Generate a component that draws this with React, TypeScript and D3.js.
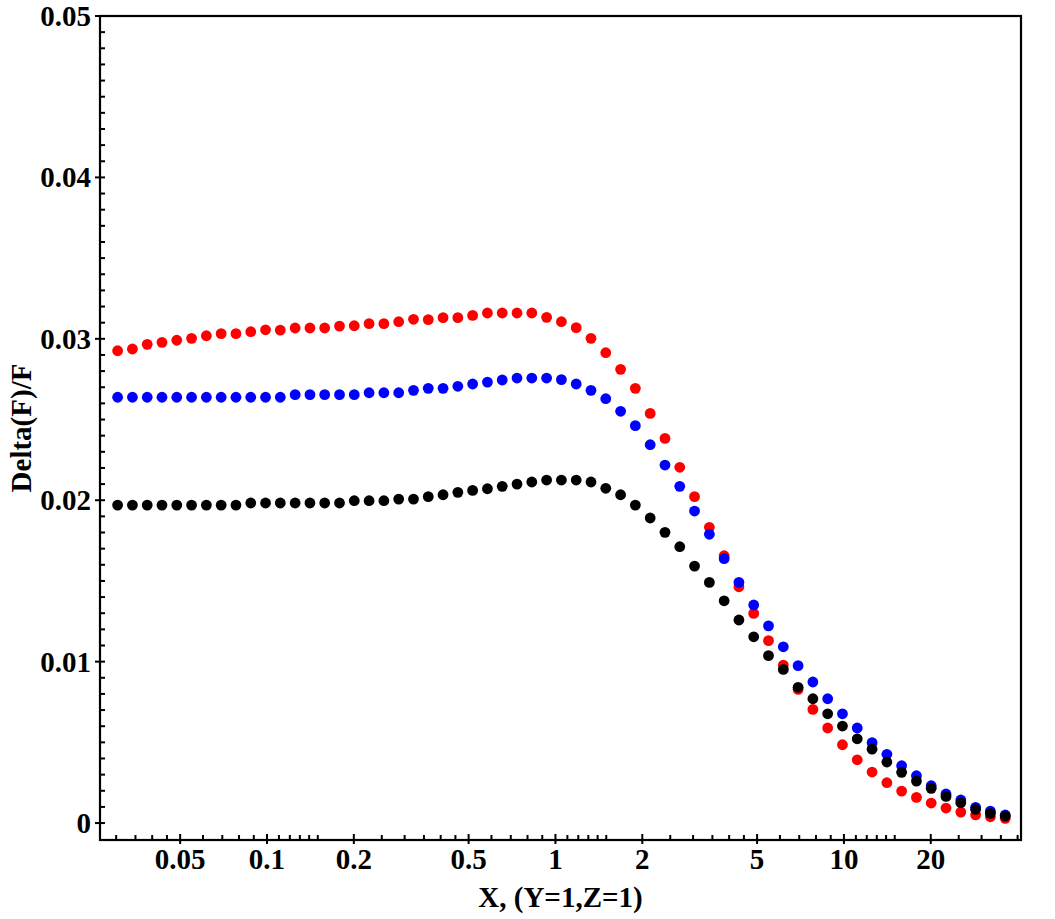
import { useRef, useEffect } from "react";
import * as d3 from "d3";

// sample positions along X (log-spaced grid)
const X_VALUES = [
  0.03035, 0.03416, 0.03844, 0.04325, 0.04867, 0.05477, 0.06164, 0.06936, 0.07805, 0.08784,
  0.09886, 0.1112, 0.1252, 0.1409, 0.1585, 0.1784, 0.2007, 0.2259, 0.2542, 0.2861,
  0.322, 0.3623, 0.4077, 0.4588, 0.5163, 0.581, 0.6538, 0.7357, 0.8279, 0.9318,
  1.0486, 1.18, 1.328, 1.494, 1.682, 1.892, 2.13, 2.397, 2.697, 3.035,
  3.416, 3.844, 4.325, 4.867, 5.477, 6.164, 6.936, 7.805, 8.784, 9.883,
  11.12, 12.52, 14.09, 15.85, 17.84, 20.07, 22.59, 25.42, 28.61, 32.19,
  36.24,
];

const RED_VALUES = [
  0.02926, 0.02937, 0.02966, 0.02978, 0.02991, 0.03003, 0.03019, 0.03032, 0.03032, 0.03044,
  0.03056, 0.03054, 0.03067, 0.03067, 0.03067, 0.03079, 0.03081, 0.03094, 0.03094, 0.03106,
  0.03121, 0.03119, 0.03131, 0.03131, 0.03145, 0.0316, 0.0316, 0.0316, 0.0316, 0.03133,
  0.03106, 0.03069, 0.03003, 0.02914, 0.02811, 0.02693, 0.02538, 0.02383, 0.02204, 0.02022,
  0.01832, 0.01656, 0.01464, 0.01299, 0.0113, 0.00979, 0.00828, 0.00704, 0.00589, 0.00485,
  0.00392, 0.00316, 0.0025, 0.00198, 0.00159, 0.00124, 0.00093, 0.00068, 0.00051, 0.00039,
  0.00029,
];

const BLUE_VALUES = [
  0.02638, 0.02638, 0.02638, 0.02638, 0.02638, 0.02638, 0.02638, 0.02638, 0.02638, 0.02638,
  0.02638, 0.02638, 0.02654, 0.02654, 0.02654, 0.02654, 0.02654, 0.02666, 0.02666, 0.02666,
  0.02681, 0.02693, 0.02693, 0.02706, 0.0272, 0.02732, 0.02745, 0.02757, 0.02757, 0.02757,
  0.02747, 0.0272, 0.02681, 0.02629, 0.02551, 0.02462, 0.02344, 0.02218, 0.02086, 0.01933,
  0.01789, 0.01638, 0.01491, 0.01351, 0.01222, 0.01092, 0.00975, 0.00874, 0.0077, 0.00677,
  0.00589, 0.00498, 0.00426, 0.00355, 0.00293, 0.00231, 0.0018, 0.00143, 0.00097, 0.00074,
  0.0005,
];

const BLACK_VALUES = [
  0.0197, 0.0197, 0.0197, 0.0197, 0.0197, 0.0197, 0.0197, 0.0197, 0.0197, 0.01983,
  0.01983, 0.01983, 0.01983, 0.01983, 0.01983, 0.01983, 0.01997, 0.01997, 0.01997, 0.02007,
  0.02007, 0.02022, 0.02034, 0.02049, 0.02061, 0.02071, 0.02086, 0.021, 0.02113, 0.02125,
  0.02125, 0.02125, 0.02113, 0.02074, 0.02034, 0.0197, 0.0189, 0.01801, 0.01712, 0.01592,
  0.01491, 0.01377, 0.01258, 0.01154, 0.01037, 0.00952, 0.00841, 0.0077, 0.00677, 0.00601,
  0.00522, 0.00458, 0.00378, 0.00314, 0.0026, 0.00215, 0.00165, 0.00126, 0.00085, 0.0006,
  0.00043,
];

const Y_TICKS = [0, 0.01, 0.02, 0.03, 0.04, 0.05];
const Y_TICK_LABELS = ["0", "0.01", "0.02", "0.03", "0.04", "0.05"];
const X_TICKS = [0.05, 0.1, 0.2, 0.5, 1, 2, 5, 10, 20];
const X_TICK_LABELS = ["0.05", "0.1", "0.2", "0.5", "1", "2", "5", "10", "20"];
const X_MINOR_TICKS = [
  0.03, 0.035, 0.04, 0.045, 0.06, 0.07, 0.08, 0.09, 0.11, 0.12, 0.13, 0.14, 0.15,
  0.25, 0.3, 0.35, 0.4, 0.45, 0.6, 0.7, 0.8, 0.9, 1.1, 1.2, 1.3, 1.4, 1.5,
  2.5, 3, 3.5, 4, 4.5, 6, 7, 8, 9, 11, 12, 13, 14, 15, 25, 30, 35, 40,
];

// drawn in this order, so black sits on top
const SERIES = [
  { name: "red", color: "#ff0000", values: RED_VALUES },
  { name: "blue", color: "#0000ff", values: BLUE_VALUES },
  { name: "black", color: "#000000", values: BLACK_VALUES },
];

const FONT = '"Liberation Serif", "Times New Roman", serif';

export default function App() {
  const svgRef = useRef<SVGSVGElement>(null);

  useEffect(() => {
    if (!svgRef.current) return;

    const width = 1055;
    const height = 919;
    const left = 100;
    const right = 1021;
    const top = 16;
    const bottom = 840;

    const svg = d3.select(svgRef.current);
    svg.selectAll("*").remove();
    svg.attr("width", width).attr("height", height);

    const x = d3.scaleLog().domain([0.02637, 41.1]).range([left, right]);
    const y = d3.scaleLinear().domain([-0.00105, 0.05]).range([bottom, top]);

    // points
    SERIES.forEach((s) => {
      svg.append("g")
        .attr("class", `series-${s.name}`)
        .selectAll("circle")
        .data(s.values)
        .join("circle")
        .attr("cx", (_, i) => x(X_VALUES[i]))
        .attr("cy", (d) => y(d))
        .attr("r", 5.4)
        .attr("fill", s.color);
    });

    // frame
    svg.append("rect")
      .attr("x", left)
      .attr("y", top)
      .attr("width", right - left)
      .attr("height", bottom - top)
      .attr("fill", "none")
      .attr("stroke", "#000")
      .attr("stroke-width", 2.2);

    const axes = svg.append("g").attr("stroke", "#000").attr("stroke-width", 2);

    // y ticks: minors every 0.001 on the inside, majors crossing the axis
    const yMinor = d3.range(0, 51).map((i) => i * 0.001).filter((v) => Math.round(v * 1000) % 10 !== 0);
    axes.selectAll(".ymin")
      .data(yMinor)
      .join("line")
      .attr("x1", left)
      .attr("x2", left + 5)
      .attr("y1", (d) => y(d))
      .attr("y2", (d) => y(d));
    axes.selectAll(".ymaj")
      .data(Y_TICKS)
      .join("line")
      .attr("x1", left - 5)
      .attr("x2", left + 5)
      .attr("y1", (d) => y(d))
      .attr("y2", (d) => y(d));

    // x ticks
    axes.selectAll(".xmin")
      .data(X_MINOR_TICKS)
      .join("line")
      .attr("x1", (d) => x(d))
      .attr("x2", (d) => x(d))
      .attr("y1", bottom)
      .attr("y2", bottom - 5);
    axes.selectAll(".xmaj")
      .data(X_TICKS)
      .join("line")
      .attr("x1", (d) => x(d))
      .attr("x2", (d) => x(d))
      .attr("y1", bottom + 4)
      .attr("y2", bottom - 6);

    const labels = svg.append("g")
      .style("font-family", FONT)
      .style("font-weight", "700")
      .style("font-size", "29px")
      .attr("fill", "#000");

    labels.selectAll(".ylab")
      .data(Y_TICKS)
      .join("text")
      .attr("x", left - 9)
      .attr("y", (d) => y(d))
      .attr("dy", "0.34em")
      .attr("text-anchor", "end")
      .text((_, i) => Y_TICK_LABELS[i]);

    labels.selectAll(".xlab")
      .data(X_TICKS)
      .join("text")
      .attr("x", (d) => x(d))
      .attr("y", 869)
      .attr("text-anchor", "middle")
      .text((_, i) => X_TICK_LABELS[i]);

    labels.append("text")
      .attr("x", (left + right) / 2)
      .attr("y", 907)
      .attr("text-anchor", "middle")
      .text("X, (Y=1,Z=1)");

    labels.append("text")
      .attr("transform", `translate(31,${(top + bottom) / 2 + 0}) rotate(-90)`)
      .attr("text-anchor", "middle")
      .text("Delta(F)/F");
  }, []);

  return (
    <svg
      ref={svgRef}
      style={{ position: "absolute", left: 0, top: 0, display: "block", background: "#fff" }}
    />
  );
}
